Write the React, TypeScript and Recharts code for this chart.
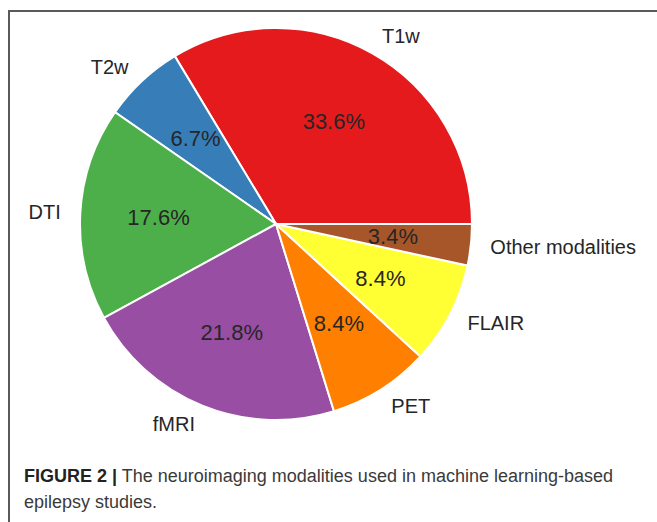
import { Pie, PieChart, Cell } from "recharts";

const modalities = ["T1w", "T2w", "DTI", "fMRI", "PET", "FLAIR", "Other modalities"];
const shares = [33.6, 6.7, 17.6, 21.8, 8.4, 8.4, 3.4];
const colors = ["#e41a1c", "#377eb8", "#4daf4a", "#984ea3", "#ff7f00", "#ffff33", "#a65628"];

const data = modalities.map((name, i) => ({ name, value: shares[i] }));

const RAD = Math.PI / 180;
const font = "'Liberation Sans', Arial, sans-serif";

// matplotlib-style labels: name at 1.1r, percentage at 0.6r
function renderLabel(props: any) {
  const { cx, cy, midAngle, outerRadius, index } = props;
  const cos = Math.cos(-midAngle * RAD);
  const sin = Math.sin(-midAngle * RAD);
  const nx = cx + outerRadius * 1.1 * cos;
  const ny = cy + outerRadius * 1.1 * sin;
  const px = cx + outerRadius * 0.6 * cos;
  const py = cy + outerRadius * 0.6 * sin;
  return (
    <g>
      <text
        x={nx}
        y={ny}
        textAnchor={cos >= 0 ? "start" : "end"}
        dominantBaseline="central"
        fontSize={20}
        fontFamily={font}
        fill="#262626"
      >
        {modalities[index]}
      </text>
      <text
        x={px}
        y={py}
        textAnchor="middle"
        dominantBaseline="central"
        fontSize={22}
        fontFamily={font}
        fill="#262626"
      >
        {shares[index].toFixed(1)}%
      </text>
    </g>
  );
}

export default function App() {
  return (
    <div
      style={{
        position: "absolute",
        left: 0,
        top: 0,
        width: 657,
        height: 522,
        background: "#fff",
        overflow: "hidden",
      }}
    >
      <div
        style={{
          position: "absolute",
          left: 8,
          top: 10,
          width: 660,
          height: 530,
          borderTop: "2px solid #5a5a5a",
          borderLeft: "2px solid #5a5a5a",
        }}
      />
      <div style={{ position: "absolute", left: 0, top: 0 }}>
        <PieChart width={657} height={450}>
          <Pie
            data={data}
            dataKey="value"
            nameKey="name"
            cx={271}
            cy={219}
            outerRadius={196}
            startAngle={0}
            endAngle={360}
            stroke="#ffffff"
            strokeWidth={2}
            label={renderLabel}
            labelLine={false}
            isAnimationActive={false}
          >
            {data.map((_, i) => (
              <Cell key={i} fill={colors[i]} />
            ))}
          </Pie>
        </PieChart>
      </div>
      <div
        style={{
          position: "absolute",
          left: 24,
          top: 463,
          fontFamily: font,
          fontSize: 18,
          lineHeight: "26px",
          color: "#3a3a3a",
          whiteSpace: "nowrap",
        }}
      >
        <div>
          <b style={{ color: "#222" }}>FIGURE 2 |</b> The neuroimaging modalities used in machine learning-based
        </div>
        <div>epilepsy studies.</div>
      </div>
    </div>
  );
}
